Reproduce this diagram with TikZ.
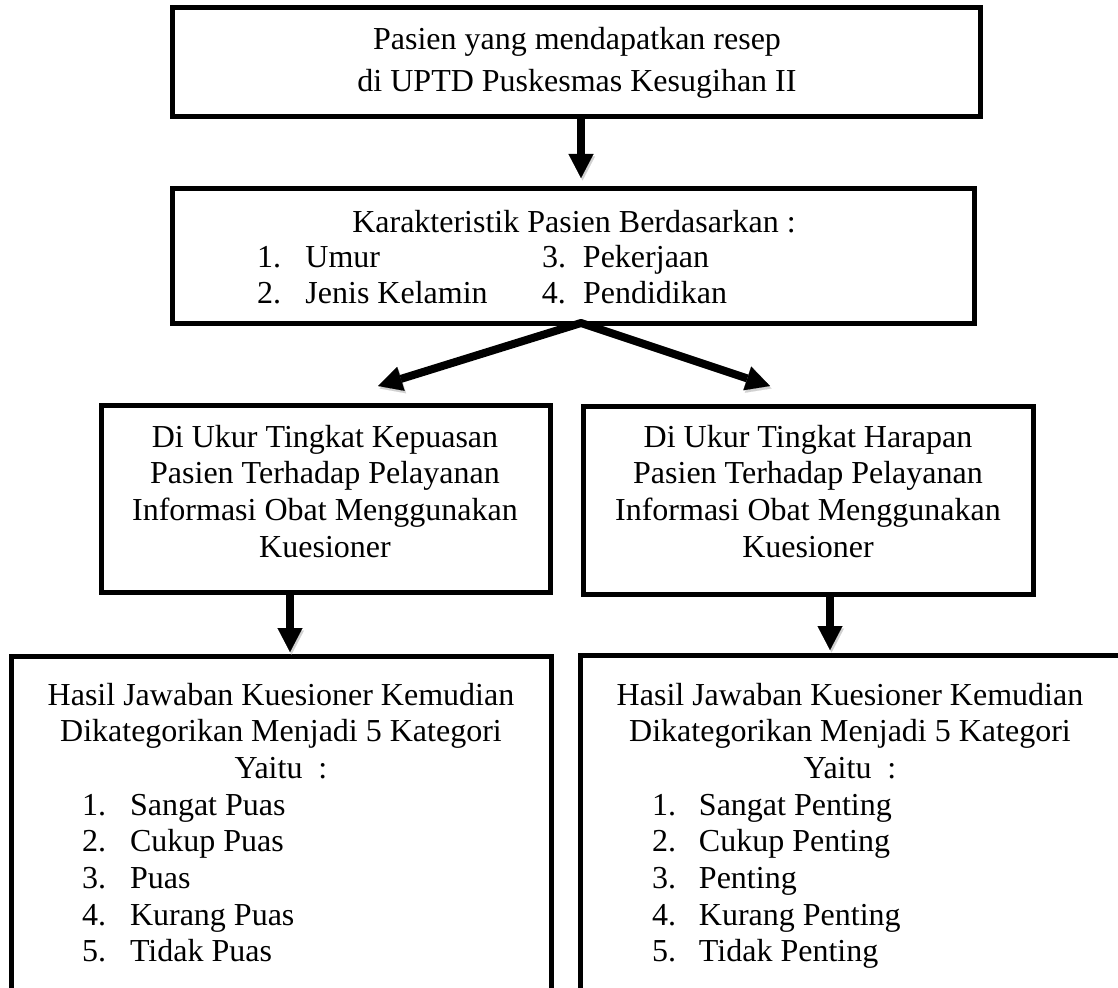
\documentclass[tikz,border=0pt]{standalone}
\usepackage{fontspec}
\setmainfont{Liberation Serif}
\usetikzlibrary{arrows.meta}
\tikzset{
  box/.style={draw, line width=5pt, rectangle, inner sep=0pt, outer sep=0pt, anchor=north west},
  txt/.style={inner sep=0pt, outer sep=0pt, font=\fontsize{32}{36.7}\selectfont},
  shade/.style={preaction={draw=black!18, transform canvas={shift={(1.5pt,-2.5pt)}}}},
  arr/.style={shade, line width=8pt, -{Triangle[length=24pt,width=25pt,line width=0.1pt]}},
  arrboth/.style={shade, line width=8pt, line join=round, {Triangle[length=24pt,width=25pt,line width=0.1pt]}-{Triangle[length=24pt,width=25pt,line width=0.1pt]}},
}
\newcommand{\itm}[2]{\makebox[#1][l]{#2}}
\begin{document}
\begin{tikzpicture}[x=1pt,y=-1pt]
\useasboundingbox (0,0) rectangle (1118,987);
\clip (0,0) rectangle (1118,987);
% boxes
\node[box, minimum width=808pt, minimum height=109pt] (b1) at (172.5,7.5) {};
\node[box, minimum width=801.5pt, minimum height=134pt] (b2) at (172.5,189) {};
\node[box, minimum width=449.5pt, minimum height=187.5pt] (b3) at (101,405) {};
\node[box, minimum width=450pt, minimum height=188pt] (b4) at (583,406) {};
\node[box, minimum width=540pt, minimum height=400pt] (b5) at (11.5,656) {};
\node[box, minimum width=600pt, minimum height=400pt] (b6) at (580.5,655) {};
% texts
\node[txt, anchor=base, font=\fontsize{32}{42}\selectfont] (t1) at (577,50)
  {\begin{tabular}[t]{@{}c@{}}Pasien yang mendapatkan resep\\ di UPTD Puskesmas Kesugihan II\end{tabular}};
\node[txt, anchor=base] (t2) at (574,232) {Karakteristik Pasien Berdasarkan :};
\node[txt, anchor=base west] (t2l) at (257,267)
  {\begin{tabular}[t]{@{}l@{}}\itm{48.5pt}{1.}\itm{236.5pt}{Umur}\itm{41pt}{3.}Pekerjaan\\
   \itm{48.5pt}{2.}\itm{236.5pt}{Jenis Kelamin}\itm{41pt}{4.}Pendidikan\end{tabular}};
\node[txt, anchor=base] (t3) at (325,447)
  {\begin{tabular}[t]{@{}c@{}}Di Ukur Tingkat Kepuasan\\ Pasien Terhadap Pelayanan\\ Informasi Obat Menggunakan\\ Kuesioner\end{tabular}};
\node[txt, anchor=base] (t4) at (808,447)
  {\begin{tabular}[t]{@{}c@{}}Di Ukur Tingkat Harapan\\ Pasien Terhadap Pelayanan\\ Informasi Obat Menggunakan\\ Kuesioner\end{tabular}};
\node[txt, anchor=base] (t5) at (281,705)
  {\begin{tabular}[t]{@{}c@{}}Hasil Jawaban Kuesioner Kemudian\\ Dikategorikan Menjadi 5 Kategori\\ Yaitu~~:\end{tabular}};
\node[txt, anchor=base west] (t5l) at (82,815)
  {\begin{tabular}[t]{@{}l@{}}\itm{48pt}{1.}Sangat Puas\\ \itm{48pt}{2.}Cukup Puas\\ \itm{48pt}{3.}Puas\\ \itm{48pt}{4.}Kurang Puas\\ \itm{48pt}{5.}Tidak Puas\end{tabular}};
\node[txt, anchor=base] (t6) at (850,705)
  {\begin{tabular}[t]{@{}c@{}}Hasil Jawaban Kuesioner Kemudian\\ Dikategorikan Menjadi 5 Kategori\\ Yaitu~~:\end{tabular}};
\node[txt, anchor=base west] (t6l) at (652,815)
  {\begin{tabular}[t]{@{}l@{}}\itm{47pt}{1.}Sangat Penting\\ \itm{47pt}{2.}Cukup Penting\\ \itm{47pt}{3.}Penting\\ \itm{47pt}{4.}Kurang Penting\\ \itm{47pt}{5.}Tidak Penting\end{tabular}};
% connectors
\coordinate (x1) at (581,0);
\coordinate (x3) at (290,0);
\coordinate (x4) at (830,0);
\coordinate (tipL) at (378,386);
\coordinate (tipR) at (770,386);
\draw[arr, shorten >=11pt] (b1.south -| x1) -- (b2.north -| x1);
\draw[arrboth] (tipL) -- (b2.south -| x1) -- (tipR);
\draw[arr, shorten >=4pt] (b3.south -| x3) -- (b5.north -| x3);
\draw[arr, shorten >=5pt] (b4.south -| x4) -- (b6.north -| x4);
\end{tikzpicture}
\end{document}
